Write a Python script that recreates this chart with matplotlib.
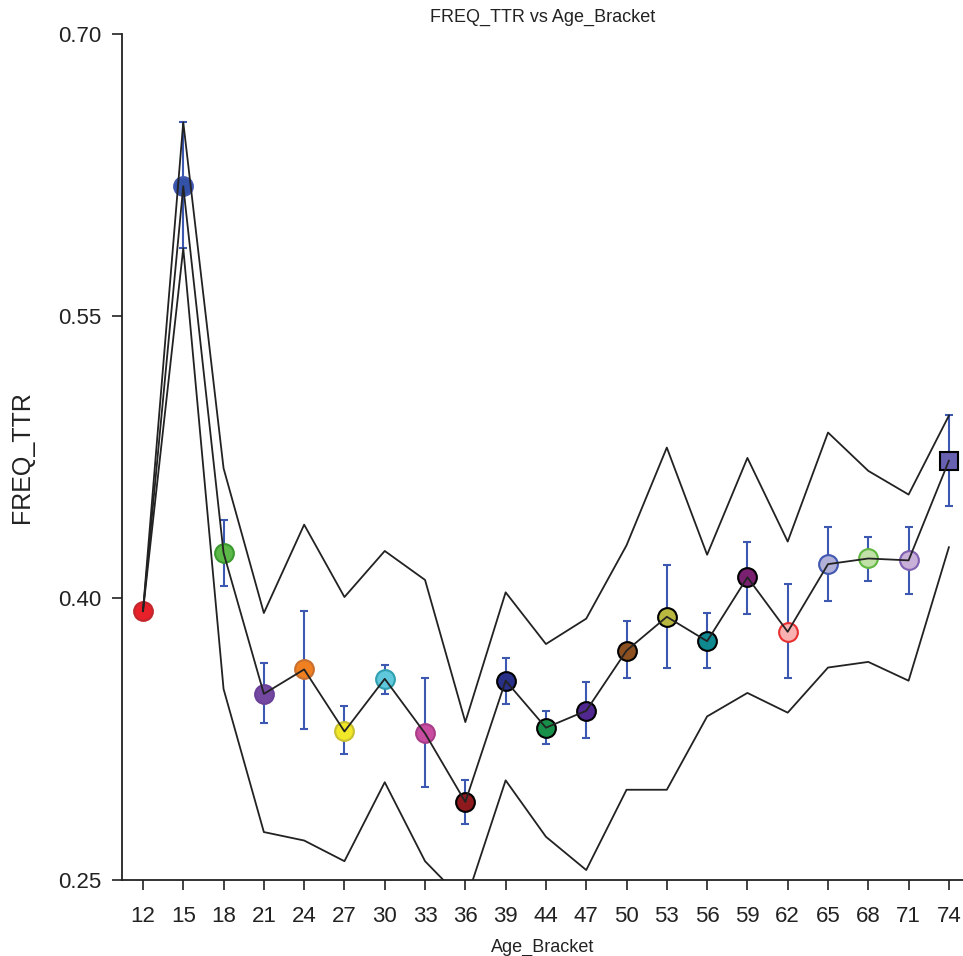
import matplotlib
matplotlib.use('Agg')
import matplotlib.pyplot as plt
import numpy as np

plt.rcParams['font.family'] = ['Liberation Sans', 'DejaVu Sans']

ages = ['12', '15', '18', '21', '24', '27', '30', '33', '36', '39', '44',
        '47', '50', '53', '56', '59', '62', '65', '68', '71', '74']
mean = [0.393, 0.619, 0.424, 0.349, 0.362, 0.329, 0.357, 0.328, 0.2915, 0.356, 0.331,
        0.340, 0.372, 0.390, 0.377, 0.411, 0.382, 0.418, 0.421, 0.420, 0.473]
err_hi = [np.nan, 0.653, 0.4415, 0.3654, 0.3931, 0.3426, 0.3644, 0.3574, 0.3032, 0.3681, 0.340,
          0.3553, 0.3878, 0.4176, 0.392, 0.4298, 0.4074, 0.4378, 0.4324, 0.4378, 0.4973]
err_lo = [np.nan, 0.586, 0.4064, 0.3335, 0.3303, 0.317, 0.349, 0.2995, 0.2798, 0.3436, 0.3223,
          0.3255, 0.3574, 0.3628, 0.3628, 0.3915, 0.3574, 0.3984, 0.409, 0.4021, 0.449]
upper = [0.393, 0.653, 0.469, 0.392, 0.439, 0.4005, 0.425, 0.4096, 0.334, 0.403, 0.3755,
         0.389, 0.428, 0.480, 0.423, 0.4745, 0.430, 0.488, 0.4676, 0.455, 0.497]
lower = [0.393, 0.586, 0.3516, 0.2755, 0.271, 0.260, 0.302, 0.260, 0.238, 0.303, 0.273,
         0.2553, 0.298, 0.298, 0.337, 0.3495, 0.339, 0.363, 0.366, 0.356, 0.427]

face = ['#e8202a', '#3451a8', '#5cb848', '#7448a0', '#f08020', '#f0e828', '#60c8dc',
        '#c84ca0', '#8e1a1e', '#283088', '#18904a', '#502890', '#8c5020', '#b8b840',
        '#108890', '#7a2070', '#f8b0b0', '#b0b0d8', '#c0e0a8', '#c8b0d8', '#6860b0']
edge = ['#c0282e', '#4058b0', '#3a9a30', '#6a4098', '#c87030', '#c8c030', '#30a0b0',
        '#a83c88', 'black', 'black', 'black', 'black', 'black', 'black',
        'black', 'black', '#e83030', '#4058b0', '#60b840', '#8060b0', 'black']

x = np.arange(len(ages))
mean = np.array(mean)
err_hi = np.array(err_hi)
err_lo = np.array(err_lo)

fig = plt.figure(figsize=(9.63, 9.56), dpi=100)
ax = fig.add_axes([0.1267, 0.0795, 0.8733, 0.885])

ax.errorbar(x, mean, yerr=[mean - err_lo, err_hi - mean], fmt='none',
            ecolor='#3c58b0', elinewidth=1.5, capsize=3, capthick=1.5, zorder=2)
for i in range(len(x)):
    m = 's' if i == len(x) - 1 else 'o'
    ax.plot(x[i], mean[i], marker=m, ms=13.5, mfc=face[i], mec=edge[i], mew=1.5,
            ls='none', zorder=3)
ax.plot(x, mean, color='#222222', lw=1.3, zorder=4)
ax.plot(x, upper, color='#222222', lw=1.3, zorder=4)
ax.plot(x, lower, color='#222222', lw=1.3, zorder=4)

ax.set_xlim(-0.52, 20.35)
ax.set_ylim(0.25, 0.70)
ax.set_xticks(x)
ax.set_xticklabels(ages)
ax.set_yticks([0.25, 0.40, 0.55, 0.70])
ax.set_yticklabels(['0.25', '0.40', '0.55', '0.70'])
ax.tick_params(axis='both', labelsize=16, length=7, width=1.2, colors='#222222')
ax.tick_params(axis='x', pad=12)
ax.tick_params(axis='y', pad=8)
for s in ['top', 'right']:
    ax.spines[s].set_visible(False)
for s in ['left', 'bottom']:
    ax.spines[s].set_linewidth(1.3)
    ax.spines[s].set_color('#222222')

ax.set_xlabel('Age_Bracket', fontsize=13, color='#222222', labelpad=8)
ax.set_ylabel('FREQ_TTR', fontsize=18, color='#222222', labelpad=17)
ax.set_title('FREQ_TTR vs Age_Bracket', fontsize=13, color='#222222', pad=9)

plt.savefig('out.png', dpi=100)
plt.close()
